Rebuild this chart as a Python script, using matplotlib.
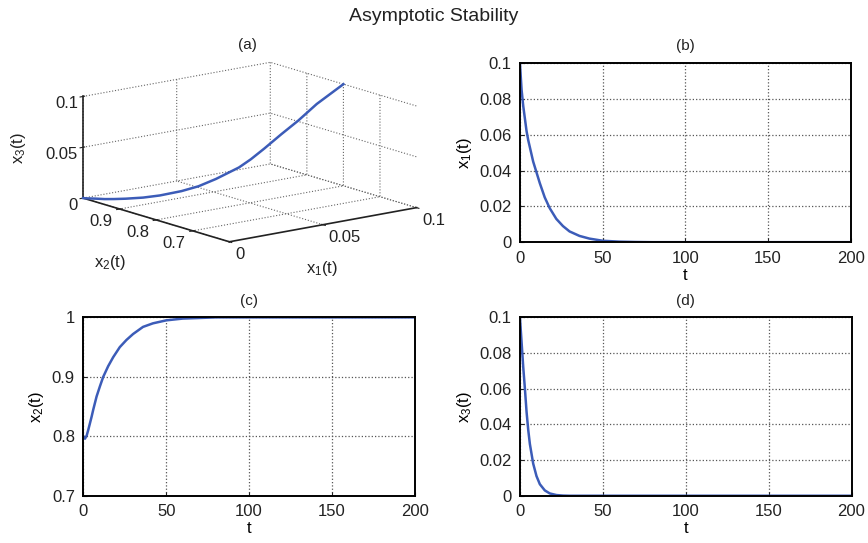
import numpy as np
import matplotlib
matplotlib.use("Agg")
import matplotlib.pyplot as plt

plt.rcParams.update({
    "font.family": ["Liberation Sans", "DejaVu Sans"],
    "font.size": 12,
    "mathtext.fontset": "custom",
    "mathtext.rm": "Liberation Sans",
    "mathtext.it": "Liberation Sans:italic",
    "grid.linestyle": ":",
    "grid.color": "#555555",
    "grid.linewidth": 0.9,
    "axes.linewidth": 1.4,
    "text.color": "#222222",
    "xtick.color": "#222222",
    "ytick.color": "#222222",
})

# values (common time grid for all three states)
t = [0, 1, 2, 3, 4, 5, 6, 8, 10, 12, 15, 18, 22, 26, 30, 36, 42, 50, 60, 70, 80, 100, 150, 200]
x1 = [0.1, 0.085, 0.076, 0.069, 0.062, 0.057, 0.053, 0.045, 0.039, 0.033, 0.025, 0.019,
      0.013, 0.009, 0.006, 0.0035, 0.002, 0.0008, 0.0003, 0.0001, 0.0, 0.0, 0.0, 0.0]
x2 = [0.80, 0.796, 0.801, 0.811, 0.822, 0.833, 0.845, 0.867, 0.884, 0.90, 0.918, 0.933,
      0.95, 0.962, 0.972, 0.984, 0.99, 0.995, 0.998, 0.999, 1.0, 1.0, 1.0, 1.0]
x3 = [0.1, 0.086, 0.072, 0.060, 0.047, 0.037, 0.029, 0.018, 0.011, 0.0065, 0.003, 0.0013,
      0.0004, 0.0001, 0.0, 0.0, 0.0, 0.0, 0.0, 0.0, 0.0, 0.0, 0.0, 0.0]

t_ticks = [0, 50, 100, 150, 200]
small_ticks = [0, 0.02, 0.04, 0.06, 0.08, 0.1]
x2_ticks = [0.7, 0.8, 0.9, 1]

line_c = "#3c5cb8"
lw = 1.8

fig = plt.figure(figsize=(8.68, 5.43), dpi=100)
fig.suptitle("Asymptotic Stability", fontsize=14, y=0.985)

# --- (a) 3D trajectory ---
ax = fig.add_axes([-0.032, 0.397, 0.629, 0.629], projection="3d")
ax.set_proj_type("ortho")
ax.plot(x1, x2, x3, color=line_c, lw=lw)
ax.set_xlim(0, 0.1)
ax.set_ylim(0.6, 1.0)
ax.set_zlim(0, 0.1)
ax.set_xticks([0, 0.05, 0.1])
ax.set_xticklabels(["0", "0.05", "0.1"])
ax.set_yticks([0.7, 0.8, 0.9])
ax.set_zticks([0, 0.05, 0.1])
ax.set_zticklabels(["0", "0.05", "0.1"])
ax.set_box_aspect((1, 1, 0.44))
ax.view_init(elev=13.5, azim=-128)
for axis in (ax.xaxis, ax.yaxis, ax.zaxis):
    axis.set_pane_color((1, 1, 1, 0))
    axis._axinfo["grid"].update({"linestyle": ":", "color": "#666666", "linewidth": 0.8})
    axis.line.set_color("#222222")
    axis.line.set_linewidth(1.2)
ax.tick_params(axis="x", pad=-3)
ax.tick_params(axis="y", pad=-3)
ax.tick_params(axis="z", pad=-6)
for lab in ax.get_xticklabels():
    lab.set_ha("left")
for lab in ax.get_yticklabels():
    lab.set_ha("right")
for lab in ax.get_zticklabels():
    lab.set_ha("right")
fig.text(18 / 868, 1 - 148 / 543, "x$_3$(t)", rotation=90, ha="center", va="center")
fig.text(322 / 868, 1 - 268 / 543, "x$_1$(t)", ha="center", va="center")
fig.text(110 / 868, 1 - 262 / 543, "x$_2$(t)", ha="center", va="center")
fig.text(247 / 868, 1 - 45 / 543, "(a)", ha="center", va="center", fontsize=11)

# --- (b), (c), (d) time histories ---
def time_panel(rect, y, ylim, yticks, ylab, title):
    a = fig.add_axes(rect)
    a.plot(t, y, color=line_c, lw=lw)
    a.set_xlim(0, 200)
    a.set_ylim(*ylim)
    a.set_xticks(t_ticks)
    a.set_yticks(yticks)
    a.set_yticklabels([f"{v:g}" for v in yticks])
    a.grid(True)
    a.tick_params(direction="in", length=3, pad=6)
    a.set_xlabel("t", labelpad=1.5)
    a.set_ylabel(ylab, labelpad=4)
    a.set_title(title, fontsize=11, pad=9)
    return a

time_panel([0.599, 0.554, 0.381, 0.330], x1, (0, 0.1), small_ticks, "x$_1$(t)", "(b)")
time_panel([0.096, 0.087, 0.382, 0.3285], x2, (0.7, 1.0), x2_ticks, "x$_2$(t)", "(c)")
time_panel([0.599, 0.087, 0.382, 0.3285], x3, (0, 0.1), small_ticks, "x$_3$(t)", "(d)")

fig.savefig("out.png", dpi=100)
